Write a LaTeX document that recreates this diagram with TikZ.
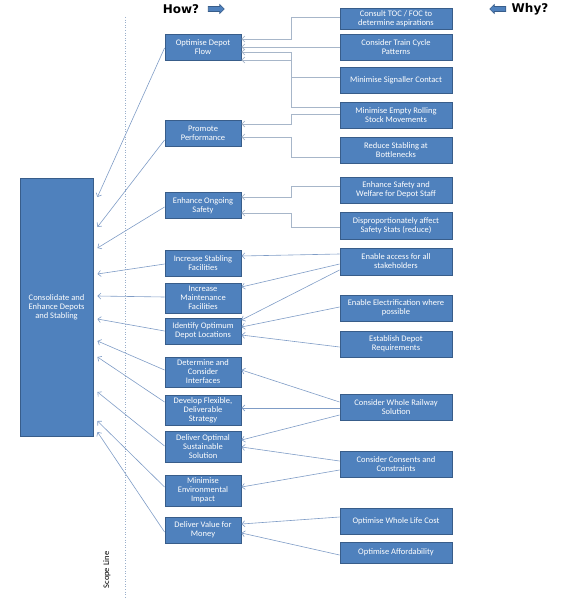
\documentclass[tikz,border=0pt]{standalone}
\usepackage{fontspec}
\setmainfont{Carlito}
\newfontfamily\headfont{DejaVu Sans}
\usepackage{tikz}
\usetikzlibrary{arrows.meta, shapes.arrows}
\definecolor{depotblue}{HTML}{4F81BD}
\definecolor{depotedge}{HTML}{385D8A}
\definecolor{depotlink}{HTML}{7F9CC6}
\definecolor{depotgrey}{HTML}{A7B6C9}
\definecolor{depotscope}{HTML}{9AAFCB}
\newcommand{\boxfont}{\fontsize{8.5}{9}\selectfont}
\tikzset{
  goal/.style={draw=depotedge, fill=depotblue, line width=0.9pt, text=white,
               align=center, inner sep=1pt, font=\boxfont},
  howbox/.style={goal, minimum width=76pt, minimum height=26pt},
  whybox/.style={goal, minimum width=112pt, minimum height=26pt},
  arrow/.style={-{Straight Barb[length=3pt,width=6pt]}, line width=0.6pt},
  header/.style={font=\headfont\bfseries\fontsize{12}{14}\selectfont},
  cue/.style={single arrow, draw=depotedge, fill=depotblue, line width=0.6pt,
              minimum height=16pt, inner xsep=3pt, inner ysep=2.2pt,
              single arrow head extend=2pt}
}

\begin{document}
\begin{tikzpicture}[x=1pt, y=-1pt, font=\boxfont]
    \useasboundingbox (0,0) rectangle (560,602);

    % headers
    \node[header] (how) at (181,9) {How?};
    \node[cue] (howcue) at (215,9) {};
    \node[header] (why) at (530,9) {Why?};
    \node[cue, shape border rotate=180] (whycue) at (499,9) {};

    % scope line
    \coordinate (scopetop) at (125,17);
    \coordinate (scopebot) at (125,598);
    \draw[depotscope, dotted, line width=0.6pt] (scopetop) -- (scopebot);
    \node[rotate=90] (scope) at (107,570) {Scope Line};

    % aim
    \node[goal, minimum width=73pt, minimum height=258pt] (aim) at (56.5,307)
      {Consolidate and\\Enhance Depots\\and Stabling};
    \coordinate (aimedge) at ([xshift=4pt]aim.east);

    % how column
    \node[howbox] (flow) at (203,47) {Optimise Depot\\Flow};
    \node[howbox] (perform) at (203,133) {Promote\\Performance};
    \node[howbox] (safety) at (203,205.5) {Enhance Ongoing\\Safety};
    \node[howbox] (stabling) at (203,263) {Increase Stabling\\Facilities};
    \node[howbox, minimum height=30pt] (maint) at (203,298) {Increase\\Maintenance\\Facilities};
    \node[howbox] (locate) at (203,331) {Identify Optimum\\Depot Locations};
    \node[howbox, minimum height=30pt] (interface) at (203,372) {Determine and\\Consider\\Interfaces};
    \node[howbox, minimum height=30pt] (strategy) at (203,410) {Develop Flexible,\\Deliverable\\Strategy};
    \node[howbox, minimum height=31pt] (solution) at (203,446.5) {Deliver Optimal\\Sustainable\\Solution};
    \node[howbox, minimum height=31pt] (environ) at (203,490.5) {Minimise\\Environmental\\Impact};
    \node[howbox] (value) at (203,530) {Deliver Value for\\Money};

    % why column
    \node[whybox, minimum height=21pt] (toc) at (396,18.5) {Consult TOC / FOC to\\determine aspirations};
    \node[whybox] (cycle) at (396,47) {Consider Train Cycle\\Patterns};
    \node[whybox] (signal) at (396,80) {Minimise Signaller Contact};
    \node[whybox] (rolling) at (396,115) {Minimise Empty Rolling\\Stock Movements};
    \node[whybox] (neck) at (396,150) {Reduce Stabling at\\Bottlenecks};
    \node[whybox] (welfare) at (396,190) {Enhance Safety and\\Welfare for Depot Staff};
    \node[whybox, minimum height=27pt] (stats) at (396,225.5) {Disproportionately affect\\Safety Stats (reduce)};
    \node[whybox, minimum height=27pt] (access) at (396,261.5) {Enable access for all\\stakeholders};
    \node[whybox] (electric) at (396,308) {Enable Electrification where\\possible};
    \node[whybox] (require) at (396,344) {Establish Depot\\Requirements};
    \node[whybox] (railway) at (396,407) {Consider Whole Railway\\Solution};
    \node[whybox] (consent) at (396,464) {Consider Consents and\\Constraints};
    \node[whybox] (lifecost) at (396,521) {Optimise Whole Life Cost};
    \node[whybox, minimum height=21pt] (afford) at (396,552.5) {Optimise Affordability};

    % how -> aim
    \draw[arrow,draw=depotlink] (flow.west |- 0,48) -- (aimedge |- 0,197);
    \draw[arrow,draw=depotlink] (perform.west |- 0,140) -- (aimedge |- 0,227);
    \draw[arrow,draw=depotlink] (safety.west |- 0,207) -- (aimedge |- 0,248);
    \draw[arrow,draw=depotlink] (stabling.west |- 0,264) -- (aimedge |- 0,274);
    \draw[arrow,draw=depotlink] (maint.west |- 0,297) -- (aimedge |- 0,296);
    \draw[arrow,draw=depotlink] (locate.west |- 0,331) -- (aimedge |- 0,319);
    \draw[arrow,draw=depotlink] (interface.west |- 0,370) -- (aimedge |- 0,341);
    \draw[arrow,draw=depotlink] (strategy.west |- 0,402) -- (aimedge |- 0,357);
    \draw[arrow,draw=depotlink] (solution.west |- 0,446) -- (aimedge |- 0,392);
    \draw[arrow,draw=depotlink] (environ.west |- 0,487) -- (aimedge |- 0,421);
    \draw[arrow,draw=depotlink] (value.west |- 0,532) -- (aimedge |- 0,432);

    % why -> how, elbows
    \draw[arrow,draw=depotgrey] (toc.west |- 0,17) -| (291,39) -- (flow.east |- 0,39);
    \draw[arrow,draw=depotgrey] (signal.west |- 0,77) -| (291,52) -- (flow.east |- 0,52);
    \draw[arrow,draw=depotgrey] (rolling.west |- 0,107) -| (291,60) -- (flow.east |- 0,60);
    \draw[arrow,draw=depotgrey] (rolling.west |- 0,114) -| (291,124) -- (perform.east |- 0,124);
    \draw[arrow,draw=depotgrey] (neck.west |- 0,157) -| (291,137) -- (perform.east |- 0,137);
    \draw[arrow,draw=depotgrey] (welfare.west |- 0,186) -| (291,197) -- (safety.east |- 0,197);
    \draw[arrow,draw=depotgrey] (stats.west |- 0,227) -| (291,213) -- (safety.east |- 0,213);

    % why -> how, straight
    \draw[arrow,draw=depotgrey] (cycle.west |- 0,47) -- (flow.east |- 0,47);
    \draw[arrow,draw=depotlink] (access.west |- 0,254) -- (stabling.east |- 0,256);
    \draw[arrow,draw=depotlink] (access.west |- 0,264) -- (maint.east |- 0,287);
    \draw[arrow,draw=depotlink] (access.west |- 0,270) -- (locate.east |- 0,320);
    \draw[arrow,draw=depotlink] (electric.west |- 0,307) -- (locate.east |- 0,327);
    \draw[arrow,draw=depotlink] (require.west |- 0,347) -- (locate.east |- 0,335);
    \draw[arrow,draw=depotlink] (railway.west |- 0,402) -- (interface.east |- 0,370);
    \draw[arrow,draw=depotlink] (railway.west |- 0,408) -- (strategy.east |- 0,408);
    \draw[arrow,draw=depotlink] (railway.west |- 0,415) -- (solution.east |- 0,440);
    \draw[arrow,draw=depotlink] (consent.west |- 0,461) -- (solution.east |- 0,447);
    \draw[arrow,draw=depotlink] (consent.west |- 0,470) -- (environ.east |- 0,487);
    \draw[arrow,draw=depotlink] (lifecost.west |- 0,517) -- (value.east |- 0,524);
    \draw[arrow,draw=depotlink] (afford.west |- 0,555) -- (value.east |- 0,533);
\end{tikzpicture}
\end{document}
